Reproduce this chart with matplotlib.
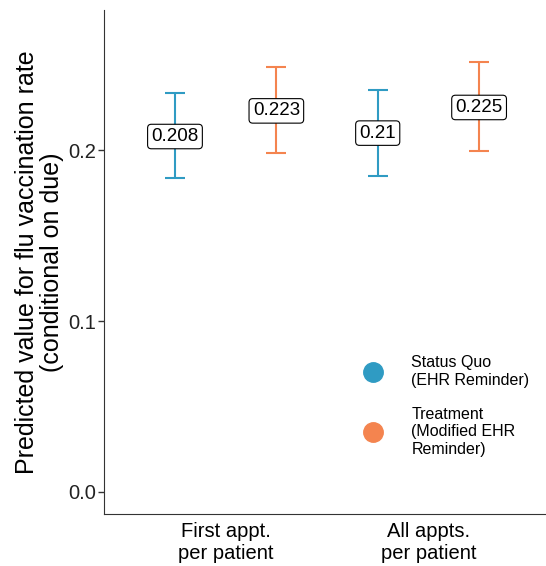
import matplotlib.pyplot as plt
from matplotlib.lines import Line2D

plt.rcParams['font.family'] = ['Liberation Sans', 'DejaVu Sans']

categories = ['First appt.\nper patient', 'All appts.\nper patient']
groups = ['Status Quo\n(EHR Reminder)', 'Treatment\n(Modified EHR\nReminder)']
colors = ['#2f9bc3', '#f4844f']

est = [[0.208, 0.210], [0.223, 0.225]]
lower = [[0.1836, 0.1848], [0.1981, 0.1996]]
upper = [[0.2332, 0.2355], [0.2487, 0.2515]]
labels = [['0.208', '0.21'], ['0.223', '0.225']]

fig = plt.figure(figsize=(5.46, 5.66), dpi=100)
ax = fig.add_axes([0.1905, 0.0919, 0.8095, 0.8900])

dodge = [-0.25, 0.25]
for g in range(2):
    for c in range(2):
        x = c + 1 + dodge[g]
        ax.errorbar(x, est[g][c],
                    yerr=[[est[g][c] - lower[g][c]], [upper[g][c] - est[g][c]]],
                    fmt='none', ecolor=colors[g], elinewidth=1.5,
                    capsize=7.5, capthick=1.5)
        ax.text(x, est[g][c], labels[g][c], ha='center', va='center', fontsize=13.5,
                bbox=dict(boxstyle='round,pad=0.2,rounding_size=0.2',
                          facecolor='white', edgecolor='black', linewidth=0.8))

ax.set_xlim(0.4, 2.58)
ax.set_ylim(-0.0129, 0.2819)
ax.set_xticks([1, 2])
ax.set_xticklabels(categories, fontsize=14.5, color='black', linespacing=1.15)
ax.set_yticks([0.0, 0.1, 0.2])
ax.set_yticklabels(['0.0', '0.1', '0.2'], fontsize=14.5, color='#222222')
ax.tick_params(axis='x', length=0, pad=6)
ax.tick_params(axis='y', length=4, color='#333333', width=1, pad=2)
ax.spines['top'].set_visible(False)
ax.spines['right'].set_visible(False)
ax.spines['left'].set_color('#333333')
ax.spines['bottom'].set_color('#333333')
ax.set_ylabel('Predicted value for flu vaccination rate\n(conditional on due)',
              fontsize=18, labelpad=3, linespacing=1.05)

handles = [Line2D([], [], marker='o', linestyle='none', markersize=14,
                  markerfacecolor=colors[i], markeredgecolor=colors[i]) for i in range(2)]
ax.legend(handles, groups, loc='lower left', bbox_to_anchor=(0.54, 0.085),
          frameon=False, fontsize=11.5, labelspacing=1.2, handletextpad=1.4)

plt.savefig('out.png', dpi=100)
